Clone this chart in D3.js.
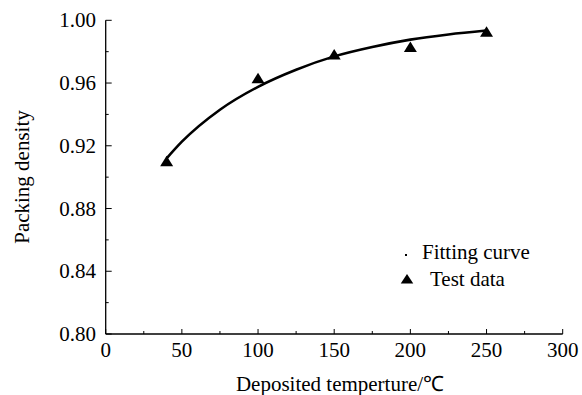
<!DOCTYPE html>
<html><head><meta charset="utf-8">
<script src="https://cdn.jsdelivr.net/npm/d3@7"></script>
<style>body{margin:0;background:#fff}svg{display:block}text{font-family:"Liberation Serif","Times New Roman",serif;fill:#000}</style>
</head><body>
<svg id="c" width="582" height="395"></svg>
<script>
const testX = [40, 100, 150, 200, 250];
const testY = [0.9103, 0.9632, 0.9783, 0.9831, 0.9929];
const fitX = [40, 50, 75, 100, 125, 150, 175, 200, 225, 250];
const fitY = [0.912, 0.9226, 0.943, 0.9576, 0.9685, 0.977, 0.983, 0.9877, 0.991, 0.9935];
const xTicks = [0, 50, 100, 150, 200, 250, 300];
const yTicks = [0.80, 0.84, 0.88, 0.92, 0.96, 1.00];
const legendLabels = ["Fitting curve", "Test data"];

const svg = d3.select("#c");
const x = d3.scaleLinear().domain([0, 300]).range([105.7, 562.7]);
const y = d3.scaleLinear().domain([0.80, 1.00]).range([334, 20.3]);
const FS = 21;

// axes lines
svg.append("line").attr("x1", x(0)).attr("x2", x(300)).attr("y1", y(0.8)).attr("y2", y(0.8)).attr("stroke", "#000").attr("stroke-width", 1.3);
svg.append("line").attr("x1", x(0)).attr("x2", x(0)).attr("y1", y(0.8)).attr("y2", y(1.0)).attr("stroke", "#000").attr("stroke-width", 1.3);

// x ticks
const xMinor = d3.range(0, 301, 25);
svg.selectAll(".xt").data(xMinor).enter().append("line")
  .attr("x1", d => x(d)).attr("x2", d => x(d))
  .attr("y1", y(0.8)).attr("y2", d => y(0.8) - (d % 50 === 0 ? 5 : 3))
  .attr("stroke", "#000").attr("stroke-width", 1);
svg.selectAll(".xl").data(xTicks).enter().append("text")
  .attr("x", d => x(d)).attr("y", 357).attr("text-anchor", "middle")
  .attr("font-size", FS).text(d => d);

// y ticks
const yMinor = d3.range(0, 11).map(i => 0.80 + i * 0.02);
svg.selectAll(".yt").data(yMinor).enter().append("line")
  .attr("x1", x(0)).attr("x2", (d, i) => x(0) + (i % 2 === 0 ? 6 : 3))
  .attr("y1", d => y(d)).attr("y2", d => y(d))
  .attr("stroke", "#000").attr("stroke-width", 1);
svg.selectAll(".yl").data(yTicks).enter().append("text")
  .attr("x", 96).attr("y", d => y(d) + 7).attr("text-anchor", "end")
  .attr("font-size", FS).text(d => d.toFixed(2));

// titles
svg.append("text").attr("x", 340).attr("y", 391).attr("text-anchor", "middle")
  .attr("font-size", FS).text("Deposited temperture/℃");
svg.append("text").attr("transform", `translate(28.5,177) rotate(-90)`).attr("text-anchor", "middle")
  .attr("font-size", FS).text("Packing density");

// fitting curve
const line = d3.line().x(d => x(d[0])).y(d => y(d[1])).curve(d3.curveMonotoneX);
svg.append("path").datum(fitX.map((v, i) => [v, fitY[i]])).attr("d", line)
  .attr("fill", "none").attr("stroke", "#000").attr("stroke-width", 2.6);

// triangles (bbox-centred)
const triPath = (w, h) => `M0,${-h/2}L${w/2},${h/2}L${-w/2},${h/2}Z`;
svg.selectAll(".tp").data(testX.map((v, i) => [v, testY[i]])).enter().append("path")
  .attr("d", triPath(13, 10.5)).attr("transform", d => `translate(${x(d[0])},${y(d[1])})`).attr("fill", "#000");

// legend
svg.append("rect").attr("x", 405).attr("y", 254).attr("width", 2).attr("height", 2).attr("fill", "#000");
svg.append("text").attr("x", 422).attr("y", 259).attr("font-size", FS).text(legendLabels[0]);
svg.append("path").attr("d", triPath(12.5, 9.5)).attr("transform", "translate(407,278.7)").attr("fill", "#000");
svg.append("text").attr("x", 430).attr("y", 285.5).attr("font-size", FS).text(legendLabels[1]);
</script>
</body></html>
